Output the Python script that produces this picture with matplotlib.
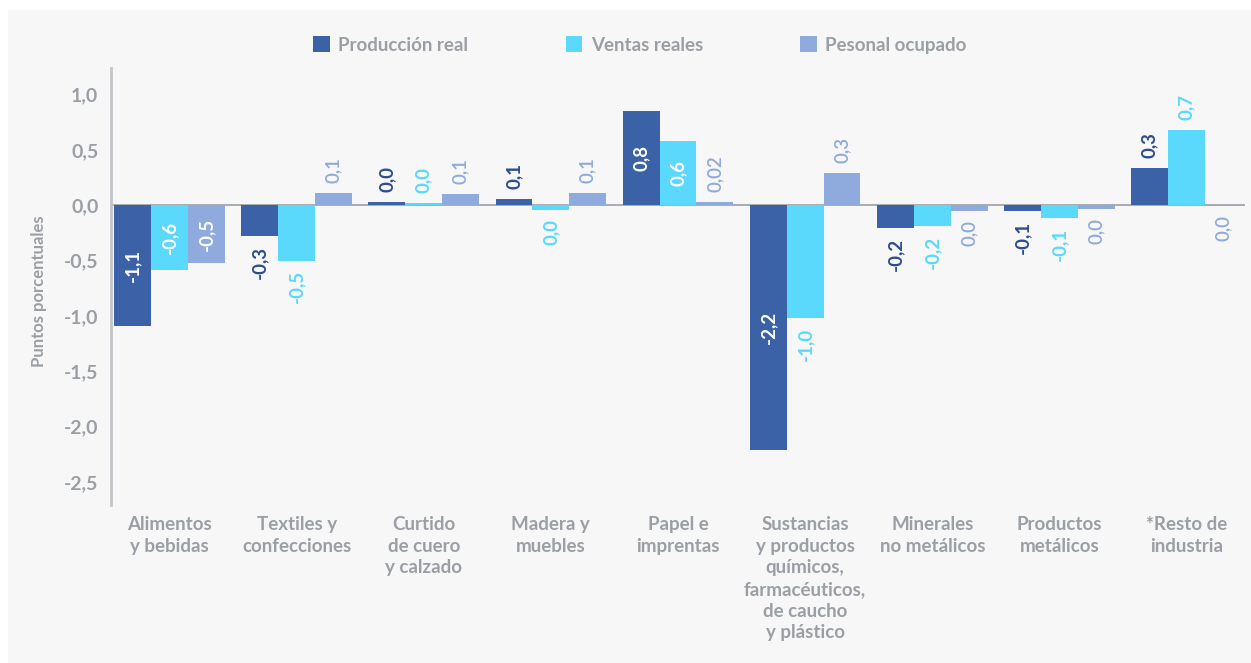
import numpy as np
import matplotlib.pyplot as plt
from matplotlib.patches import Rectangle, Patch

categorias = ['Alimentos\ny bebidas', 'Textiles y\nconfecciones', 'Curtido\nde cuero\ny calzado',
              'Madera y\nmuebles', 'Papel e\nimprentas',
              'Sustancias\ny productos\nquímicos,\nfarmacéuticos,\nde caucho\ny plástico',
              'Minerales\nno metálicos', 'Productos\nmetálicos', '*Resto de\nindustria']
produccion = [-1.09, -0.28, 0.03, 0.06, 0.85, -2.21, -0.21, -0.05, 0.34]
ventas = [-0.59, -0.50, 0.02, -0.04, 0.58, -1.02, -0.19, -0.12, 0.68]
personal = [-0.52, 0.11, 0.10, 0.11, 0.03, 0.29, -0.05, -0.03, -0.005]
etq_produccion = ['-1,1', '-0,3', '0,0', '0,1', '0,8', '-2,2', '-0,2', '-0,1', '0,3']
etq_ventas = ['-0,6', '-0,5', '0,0', '0,0', '0,6', '-1,0', '-0,2', '-0,1', '0,7']
etq_personal = ['-0,5', '0,1', '0,1', '0,1', '0,02', '0,3', '0,0', '0,0', '0,0']
series = ['Producción real', 'Ventas reales', 'Pesonal ocupado']
yticks = [1.0, 0.5, 0.0, -0.5, -1.0, -1.5, -2.0, -2.5]
ytick_labels = ['1,0', '0,5', '0,0', '-0,5', '-1,0', '-1,5', '-2,0', '-2,5']

# etiquetas que van dentro de la barra (en blanco)
dentro = [
    [True, False, False, False, True, True, False, False, False],
    [True, False, False, False, True, False, False, False, False],
    [True, False, False, False, False, False, False, False, False],
]

colores = ['#3b62a6', '#5ad9fd', '#8faadc']
col_texto = ['#2e4c8c', '#5ad9fd', '#8faadc']
pesos = ['bold', 'bold', 'semibold']
gris = '#9a9fa5'

plt.rcParams['font.family'] = ['Lato', 'DejaVu Sans']

fig = plt.figure(figsize=(12.51, 6.63), dpi=100)
fig.patch.set_facecolor('white')
fig.patches.append(Rectangle((8 / 1251, 0), 1, 1 - 10 / 663, transform=fig.transFigure,
                             facecolor='#f7f7f7', edgecolor='none', zorder=-10))
ax = fig.add_axes([111 / 1251, 158 / 663, 1134 / 1251, 437 / 663])
ax.set_facecolor('none')

x = np.arange(len(categorias))
w = 0.29
datos = [produccion, ventas, personal]
etiquetas = [etq_produccion, etq_ventas, etq_personal]

for i in range(3):
    pos = x + (i - 1) * w
    ax.bar(pos, datos[i], w, color=colores[i], label=series[i], zorder=2)
    for j in range(len(x)):
        v = datos[i][j]
        if dentro[i][j]:
            ax.text(pos[j], v / 2, etiquetas[i][j], rotation=90, ha='center', va='center',
                    color='white', fontsize=13.5, fontweight='bold', zorder=3)
        else:
            off = 7 if v >= 0 else -7
            ax.annotate(etiquetas[i][j], (pos[j], v), xytext=(0, off), textcoords='offset points',
                        rotation=90, ha='center', va='bottom' if v >= 0 else 'top',
                        color=col_texto[i], fontsize=13.5, fontweight=pesos[i], zorder=3)

ax.axhline(0, color='#9aa0a8', lw=1.2, zorder=1)
ax.set_xlim(-0.46, 8.46)
ax.set_ylim(-2.71, 1.24)
ax.set_yticks(yticks)
ax.set_yticklabels(ytick_labels, fontsize=14, fontweight='bold', color=gris)
ax.set_xticks(x)
ax.set_xticklabels(categorias, fontsize=13.5, fontweight='bold', color=gris, linespacing=1.33)
ax.tick_params(axis='y', length=0, pad=9)
ax.tick_params(axis='x', length=0, pad=8)
for s in ['top', 'right', 'bottom']:
    ax.spines[s].set_visible(False)
ax.spines['left'].set_color('#c2c6cb')
ax.spines['left'].set_linewidth(2)

ax.set_ylabel('Puntos porcentuales', fontsize=12, fontweight='bold', color=gris)
ax.yaxis.set_label_coords(-0.056, 0.49)

handles = [Patch(facecolor=c) for c in colores]
leg = fig.legend(handles, series, loc='center', bbox_to_anchor=(640 / 1251, 1 - 45 / 663),
                 ncol=3, frameon=False, handlelength=0.88, handleheight=0.88,
                 handletextpad=0.45, columnspacing=5.2, prop={'size': 13.5, 'weight': 'bold'})
for t in leg.get_texts():
    t.set_color(gris)

fig.savefig('out.png', dpi=100, facecolor=fig.get_facecolor())
